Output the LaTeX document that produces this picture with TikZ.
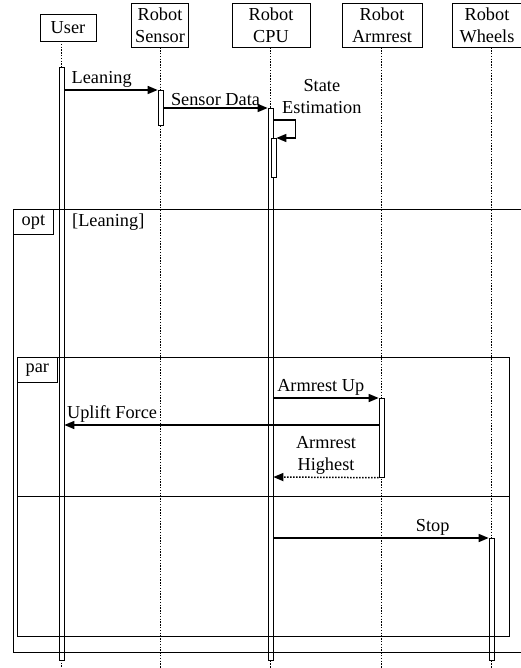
\documentclass[tikz,border=0pt]{standalone}
\usepackage{fontspec}
\setmainfont{Liberation Serif}
\usepackage{tikz}
\usetikzlibrary{arrows.meta}
\tikzset{
  head/.style={draw, fill=white, align=center, inner sep=0pt, minimum height=44pt,
               line width=0.8pt},
  bar/.style={draw, fill=white, anchor=north, minimum width=5pt, inner sep=0pt,
              line width=0.7pt},
  life/.style={line width=1.4pt, dash pattern=on 1.4pt off 1.4pt},
  msg/.style={-{Triangle[length=10pt, width=8pt]}, line width=1.5pt},
  ret/.style={msg, dash pattern=on 1.5pt off 1.5pt},
  lbl/.style={inner sep=2pt},
  frame/.style={line width=0.8pt},
  tag/.style={draw, fill=white, anchor=north west, minimum width=40pt,
              minimum height=25pt, inner sep=0pt, line width=0.8pt},
}

\begin{document}
\begin{tikzpicture}[x=1pt, y=-1pt, font=\fontsize{18.3}{22}\selectfont]
  \useasboundingbox (0,0) rectangle (521,668);

  % lifeline heads
  \node[head, minimum width=56pt, minimum height=27pt] (user) at (68,28) {User};
  \node[head, minimum width=57pt] (sensor) at (160,25) {Robot\\Sensor};
  \node[head, minimum width=78pt] (cpu) at (271,25) {Robot\\CPU};
  \node[head, minimum width=80pt] (armrest) at (382,25) {Robot\\Armrest};
  \node[head, minimum width=70pt] (wheels) at (487,25) {Robot\\Wheels};

  % lifelines
  \draw[life] (61.5,41) -- (61.5,668);
  \draw[life] (sensor.south -| 160.5,0) -- (160.5,668);
  \draw[life] (cpu.south -| 270.5,0) -- (270.5,668);
  \draw[life] (armrest.south -| 381.5,0) -- (381.5,668);
  \draw[life] (wheels.south -| 491.5,0) -- (491.5,668);

  % activations
  \node[bar, minimum height=593pt] (uBar) at (61.5,67) {};
  \node[bar, minimum height=35pt] (sBar) at (160.5,90) {};
  \node[bar, minimum height=552pt] (cBar) at (270.5,108) {};
  \node[bar, minimum height=39pt] (cBar2) at (273.5,138) {};
  \node[bar, minimum height=79pt] (aBar) at (381.5,398) {};
  \node[bar, minimum height=122pt] (wBar) at (491.5,538) {};

  % opt fragment
  \draw[frame] (13,209) rectangle (540,652);
  \node[tag] (optTag) at (13,209) {opt};
  \node[anchor=west, inner sep=0pt] (guard) at (72,222) {[Leaning]};

  % par fragment
  \draw[frame] (17,357) rectangle (509,636);
  \draw[frame] (17,496) -- (509,496);
  \node[tag] (parTag) at (17,357) {par};

  % messages
  \draw[msg] (uBar.east |- 0,90) -- node[lbl, above, pos=0.4] {Leaning} (sBar.north west);
  \draw[msg] (sBar.east |- 0,108) -- node[lbl, above] {Sensor Data} (cBar.north west);
  \draw[msg] (cBar.east |- 0,120) -- ++(22,0) |- (cBar2.north east);
  \node[align=center, anchor=south west, inner sep=0pt, font=\fontsize{18.3}{22}\selectfont]
    (stateLbl) at (282,114) {State\\Estimation};
  \draw[msg] (cBar.east |- 0,398) -- node[lbl, above, pos=0.45] {Armrest Up} (aBar.north west);
  \draw[msg] (aBar.west |- 0,425) -- node[lbl, pos=1, above right] {Uplift Force} (uBar.east |- 0,425);
  \draw[ret] (aBar.south west) -- node[lbl, above, align=center] {Armrest\\Highest} (cBar.east |- 0,477);
  \draw[msg] (cBar.east |- 0,538) -- node[lbl, pos=0.74, above] {Stop} (wBar.north west);
\end{tikzpicture}
\end{document}
